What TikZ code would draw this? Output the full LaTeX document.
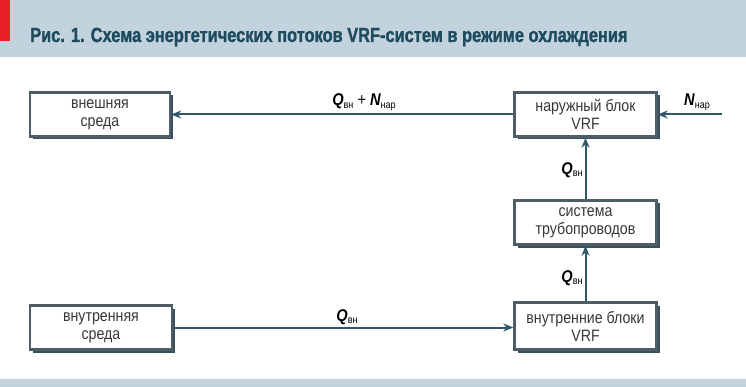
\documentclass[tikz,border=0pt]{standalone}
\usepackage{fontspec}
\setmainfont{Liberation Sans}
\newfontfamily\titlefont[FakeStretch=0.80,FakeBold=1.2]{Liberation Sans Bold}
\newfontfamily\narrowfont[FakeStretch=0.86]{Liberation Sans}
\usetikzlibrary{arrows.meta,shadows}
\definecolor{bandcol}{HTML}{C2D3DE}
\definecolor{titlecol}{HTML}{1E4B5E}
\definecolor{redcol}{HTML}{E8202A}
\definecolor{arrowcol}{HTML}{30586B}
\definecolor{bordercol}{HTML}{4F5E66}
\definecolor{shadowcol}{HTML}{3A515C}
\definecolor{textcol}{HTML}{383838}
\newcommand{\flowlab}[2]{{\bfseries\itshape #1}\raisebox{-0.3ex}{\fontsize{10.5}{11}\selectfont #2}}
\tikzset{
  blockbox/.style={draw=bordercol, line width=2.4pt, fill=white,
    minimum width=140pt, minimum height=44pt, align=center,
    font=\narrowfont\fontsize{16.5}{18}\selectfont, text=textcol,
    drop shadow={shadow xshift=3pt, shadow yshift=-3pt, fill=shadowcol, opacity=1}},
  flow/.style={draw=arrowcol, line width=2pt, -{Stealth[length=10pt,width=8pt]}},
  flowlabel/.style={font=\narrowfont\fontsize{17}{18}\selectfont, text=black, inner sep=0pt}
}
\begin{document}
\begin{tikzpicture}[x=1pt,y=-1pt]
\useasboundingbox (0,0) rectangle (746,387);
\fill[white] (0,0) rectangle (746,387);
% header
\fill[bandcol] (0,0) rectangle (746,57);
\fill[redcol] (0,0) rectangle (10,41);
\node[anchor=base west, inner sep=0pt, text=titlecol, font=\titlefont\fontsize{20.5}{22}\selectfont] (title) at (30,42) {Рис. 1. Схема энергетических потоков VRF-систем в режиме охлаждения};
% footer band
\fill[bandcol] (0,379) rectangle (746,387);
% boxes
\node[blockbox] (ext) at (100,114.5) {внешняя\\среда};
\node[blockbox, minimum width=142pt] (outu) at (585.5,114.5) {наружный блок\\VRF};
\node[blockbox, minimum width=142pt] (pipe) at (585.5,222.5) {система\\трубопроводов};
\node[blockbox, minimum width=142pt] (inner) at (101,327.5) {внутренняя\\среда};
\node[blockbox, minimum width=142pt, minimum height=47pt] (inu) at (585.5,326) {внутренние блоки\\VRF};
% connectors
\coordinate (nin) at (722,114.5);
\draw[flow] (outu.west) -- (ext.east);
\draw[flow] (nin) -- (outu.east);
\draw[flow] (pipe.north) -- (outu.south);
\draw[flow] (inu.north) -- (pipe.south);
\draw[flow] (inner.east) -- (inu.west |- inner.east);
% labels
\node[flowlabel] (l1) at (364,102) {\flowlab{Q}{вн} + \flowlab{N}{нар}};
\node[flowlabel] (l2) at (697,102) {\flowlab{N}{нар}};
\node[flowlabel] (l3) at (572,170) {\flowlab{Q}{вн}};
\node[flowlabel] (l4) at (572,278) {\flowlab{Q}{вн}};
\node[flowlabel] (l5) at (347,317) {\flowlab{Q}{вн}};
\end{tikzpicture}
\end{document}
